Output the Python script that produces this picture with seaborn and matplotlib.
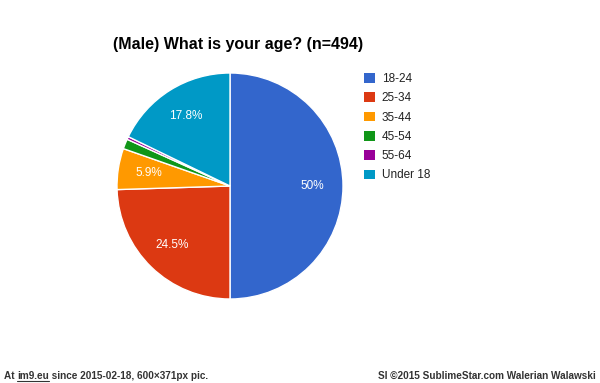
import matplotlib.pyplot as plt
import seaborn as sns
from matplotlib.patches import Patch

# Data (counts out of n=494)
age_groups = ["18-24", "25-34", "35-44", "45-54", "55-64", "Under 18"]
counts = [247, 121, 29, 7, 2, 88]
colors = ["#3366cc", "#dc3912", "#ff9900", "#109618", "#990099", "#0099c6"]

sns.set_theme(style="white")
plt.rcParams['font.family'] = ['Liberation Sans', 'DejaVu Sans']

W, H = 600, 383
fig = plt.figure(figsize=(W / 100, H / 100), dpi=100)
fig.patch.set_facecolor("white")

# pie centred at about (230, 186) px, radius ~113 px
cx, cy, r = 230, 186, 113
ax = fig.add_axes([(cx - r) / W, (H - cy - r) / H, 2 * r / W, 2 * r / H])


def fmt(p):
    if p < 5:
        return ""
    return "%g%%" % round(p, 1)


wedges, texts, autotexts = ax.pie(
    counts, colors=colors, startangle=90, counterclock=False,
    autopct=fmt, pctdistance=0.73,
    wedgeprops=dict(edgecolor="white", linewidth=1),
    textprops=dict(color="white", fontsize=8.5),
)
ax.set_aspect("equal")
ax.set_xlim(-1, 1)
ax.set_ylim(-1, 1)

fig.text(238 / W, 1 - 45 / H, "(Male) What is your age? (n=494)",
         ha="center", va="center", fontsize=11.5, fontweight="bold", color="black")

handles = [Patch(facecolor=c, edgecolor="none") for c in colors]
fig.legend(handles, age_groups, loc="upper left",
           bbox_to_anchor=(358 / W, 1 - 67 / H), frameon=False,
           fontsize=8.5, handlelength=0.9, handleheight=0.9,
           handletextpad=0.6, labelspacing=0.62, borderpad=0,
           labelcolor="#222222")

# footer: place the pieces one after another using measured widths
fy = 1 - 376 / H
fkw = dict(va="center", fontsize=7.2, color="#333333", fontweight="bold")
renderer = fig.canvas.get_renderer()
x = 4
for piece, underline in [("At ", False), ("im9.eu", True),
                         (" since 2015-02-18, 600\u00d7371px pic.", False)]:
    t = fig.text(x / W, fy, piece.replace(" ", "\u00a0"), ha="left", **fkw)
    w = t.get_window_extent(renderer).width
    if underline:
        fig.add_artist(plt.Line2D([x / W, (x + w) / W], [1 - 381 / H, 1 - 381 / H],
                                  color="#333333", linewidth=0.8))
    x += w
fig.text(596 / W, fy, "SI \u00a92015 SublimeStar.com Walerian Walawski",
         ha="right", **fkw)

fig.savefig("out.png", dpi=100, facecolor="white")
